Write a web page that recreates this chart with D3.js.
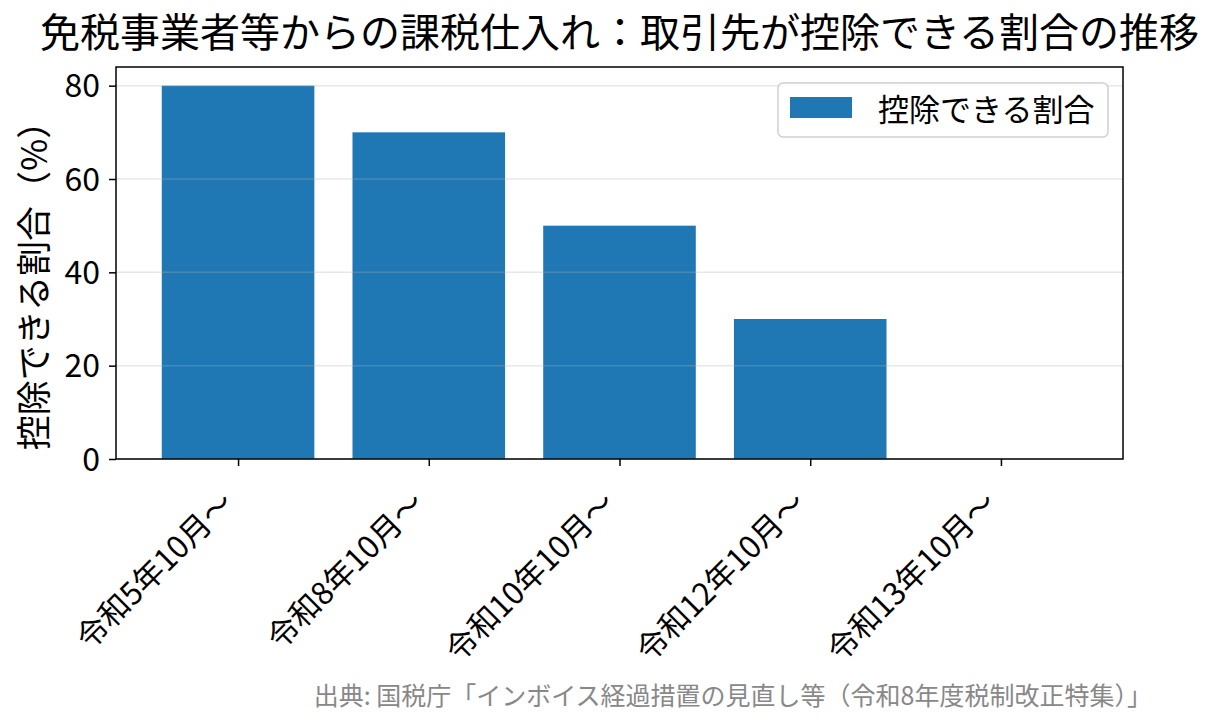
<!DOCTYPE html>
<html>
<head>
<meta charset="utf-8">
<script src="https://cdnjs.cloudflare.com/ajax/libs/d3/7.8.5/d3.min.js"></script>
<style>
body { margin: 0; background: #fff; }
text { font-family: "Noto Sans CJK JP", "Noto Sans", sans-serif; }
</style>
</head>
<body>
<div id="vis_container"></div>
<script>
// data
var categories = ["令和5年10月〜", "令和8年10月〜", "令和10年10月〜", "令和12年10月〜", "令和13年10月〜"];
var rates = [80, 70, 50, 30, 0];
var yTicks = [0, 20, 40, 60, 80];

var titleText = "免税事業者等からの課税仕入れ：取引先が控除できる割合の推移";
var yLabel = "控除できる割合（%）";
var legendLabel = "控除できる割合";
var sourceText = "出典: 国税庁「インボイス経過措置の見直し等（令和8年度税制改正特集）」";

var width = 1215, height = 725;
var plotLeft = 116, plotRight = 1123, plotTop = 67, plotBottom = 459;
var barColor = "#1f77b4";

var x = d3.scaleLinear()
    .domain([-0.64, categories.length - 1 + 0.64])
    .range([plotLeft, plotRight]);
var y = d3.scaleLinear()
    .domain([0, 84])
    .range([plotBottom, plotTop]);

var svg = d3.select("#vis_container")
    .append("svg")
    .attr("width", width)
    .attr("height", height);

// bars
svg.selectAll(".bar")
    .data(rates)
    .enter().append("rect")
    .attr("class", "bar")
    .attr("x", function(d, i) { return x(i - 0.4); })
    .attr("width", function(d, i) { return x(i + 0.4) - x(i - 0.4); })
    .attr("y", function(d) { return y(d); })
    .attr("height", function(d) { return y(0) - y(d); })
    .style("fill", barColor);

// horizontal grid, drawn over the bars
svg.append("g")
    .selectAll("line")
    .data(yTicks)
    .enter().append("line")
    .attr("x1", plotLeft).attr("x2", plotRight)
    .attr("y1", function(d) { return y(d); })
    .attr("y2", function(d) { return y(d); })
    .style("stroke", "#b0b0b0")
    .style("stroke-opacity", 0.3)
    .style("stroke-width", 1.5);

// y axis
var yAxis = svg.append("g")
    .attr("transform", "translate(" + plotLeft + ",0)")
    .call(d3.axisLeft(y).tickValues(yTicks).tickSize(7).tickPadding(9));
yAxis.select(".domain").remove();
yAxis.selectAll(".tick line").style("stroke", "#000").style("stroke-width", 1.5);
yAxis.selectAll(".tick text")
    .style("font-size", "32px")
    .style("fill", "#000")
    .attr("dy", "0.35em");

// x axis
var xAxis = svg.append("g")
    .attr("transform", "translate(0," + plotBottom + ")")
    .call(d3.axisBottom(x)
        .tickValues(d3.range(categories.length))
        .tickFormat(function(i) { return categories[i]; })
        .tickSize(7));
xAxis.select(".domain").remove();
xAxis.selectAll(".tick line").style("stroke", "#000").style("stroke-width", 1.5);
xAxis.selectAll(".tick text")
    .style("font-size", "31px")
    .style("fill", "#000")
    .style("text-anchor", "end")
    .attr("dy", null)
    .attr("y", 0)
    .attr("transform", "translate(-3,46) rotate(-45)");

// frame
svg.append("rect")
    .attr("x", plotLeft).attr("y", plotTop)
    .attr("width", plotRight - plotLeft).attr("height", plotBottom - plotTop)
    .style("fill", "none")
    .style("stroke", "#000")
    .style("stroke-width", 1.5);

// title
svg.append("text")
    .attr("x", (plotLeft + plotRight) / 2)
    .attr("y", 47)
    .style("text-anchor", "middle")
    .style("font-size", "40px")
    .style("fill", "#000")
    .text(titleText);

// y label
svg.append("text")
    .attr("transform", "translate(47," + ((plotTop + plotBottom) / 2 + 14) + ") rotate(-90)")
    .style("text-anchor", "middle")
    .style("font-size", "35px")
    .style("fill", "#000")
    .text(yLabel);

// legend
var legend = svg.append("g").attr("transform", "translate(778,83)");
legend.append("rect")
    .attr("width", 330).attr("height", 54)
    .attr("rx", 5)
    .style("fill", "#fff")
    .style("fill-opacity", 0.8)
    .style("stroke", "#d0d0d0")
    .style("stroke-width", 1.5);
legend.append("rect")
    .attr("x", 12).attr("y", 14)
    .attr("width", 62).attr("height", 21)
    .style("fill", barColor);
legend.append("text")
    .attr("x", 100).attr("y", 38)
    .style("font-size", "31px")
    .style("fill", "#000")
    .text(legendLabel);

// source note
svg.append("text")
    .attr("x", 1152)
    .attr("y", 705)
    .style("text-anchor", "end")
    .style("font-size", "25px")
    .style("fill", "#888")
    .text(sourceText);
</script>
</body>
</html>
